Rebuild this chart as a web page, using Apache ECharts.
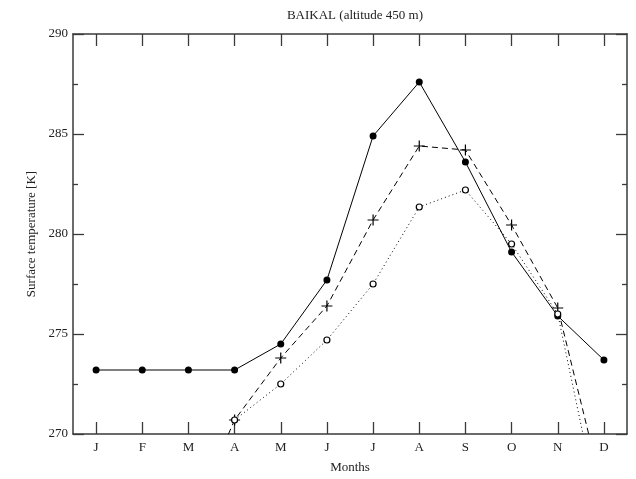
<!DOCTYPE html>
<html>
<head>
<meta charset="utf-8">
<script src="https://cdn.jsdelivr.net/npm/echarts@6/dist/echarts.min.js"></script>
<style>html,body{margin:0;padding:0;background:#fff}#c{width:636px;height:479px}</style>
</head>
<body>
<div id="c"></div>
<script>
var months = ['J','F','M','A','M','J','J','A','S','O','N','D'];
var yTicks = [270, 275, 280, 285, 290];
var solidSeries = [273.2, 273.2, 273.2, 273.2, 274.5, 277.7, 284.9, 287.6, 283.6, 279.1, 275.9, 273.7];
var dashedSeries = [null, null, 265.4, 270.7, 273.8, 276.4, 280.7, 284.4, 284.2, 280.45, 276.3, 266.9];
var dottedSeries = [null, null, null, 270.7, 272.5, 274.7, 277.5, 281.35, 282.2, 279.5, 276.0, 265.0];

var serif = '"Liberation Serif", "DejaVu Serif", serif';
var axisCol = '#3a3a3a';
var chart = echarts.init(document.getElementById('c'), null, {renderer: 'canvas'});
var plus = 'path://M0,5L10,5M5,0L5,10';

chart.setOption({
  animation: false,
  backgroundColor: '#fff',
  title: {
    text: 'BAIKAL (altitude 450 m)',
    left: 350, top: 4, textAlign: 'center',
    textStyle: {fontFamily: serif, fontSize: 13, fontWeight: 'normal', color: '#222'}
  },
  grid: {left: 73, right: 9, top: 34, bottom: 38},
  xAxis: [{
    type: 'category', data: months, boundaryGap: true, position: 'bottom',
    name: 'Months', nameLocation: 'middle', nameGap: 27,
    nameTextStyle: {fontFamily: serif, fontSize: 13, color: '#222'},
    axisLine: {show: true, lineStyle: {color: axisCol, width: 1.5}},
    axisTick: {show: true, inside: true, alignWithLabel: true, length: 12, lineStyle: {color: axisCol, width: 1.3}},
    axisLabel: {fontFamily: serif, fontSize: 13, color: '#222', margin: 7},
    splitLine: {show: false}
  }, {
    type: 'category', data: months, boundaryGap: true, position: 'top',
    axisLine: {show: true, lineStyle: {color: axisCol, width: 1.5}},
    axisTick: {show: true, inside: true, alignWithLabel: true, length: 12, lineStyle: {color: axisCol, width: 1.3}},
    axisLabel: {show: false},
    splitLine: {show: false}
  }],
  yAxis: [{
    type: 'value', min: yTicks[0], max: yTicks[yTicks.length - 1], interval: 5, position: 'left',
    name: 'Surface temperature [K]', nameLocation: 'middle', nameGap: 35,
    nameTextStyle: {fontFamily: serif, fontSize: 13, color: '#222'},
    axisLine: {show: true, lineStyle: {color: axisCol, width: 1.5}},
    axisTick: {show: true, inside: true, length: 11, lineStyle: {color: axisCol, width: 1.3}},
    minorTick: {show: true, splitNumber: 2, length: 5, lineStyle: {color: axisCol, width: 1.3}},
    axisLabel: {fontFamily: serif, fontSize: 13, color: '#222', margin: 5},
    splitLine: {show: false}
  }, {
    type: 'value', min: yTicks[0], max: yTicks[yTicks.length - 1], interval: 5, position: 'right',
    axisLine: {show: true, lineStyle: {color: axisCol, width: 1.5}},
    axisTick: {show: true, inside: true, length: 11, lineStyle: {color: axisCol, width: 1.3}},
    minorTick: {show: true, splitNumber: 2, length: 5, lineStyle: {color: axisCol, width: 1.3}},
    axisLabel: {show: false},
    splitLine: {show: false}
  }],
  series: [{
    type: 'line', name: 'solid', data: solidSeries, xAxisIndex: 0, yAxisIndex: 0,
    clip: true, connectNulls: false,
    symbol: 'circle', symbolSize: 7, showAllSymbol: true,
    itemStyle: {color: '#000'},
    lineStyle: {color: '#000', width: 1, type: 'solid'}
  }, {
    type: 'line', name: 'dashed', data: dashedSeries, xAxisIndex: 0, yAxisIndex: 0,
    clip: true,
    symbol: plus, symbolSize: 11, showAllSymbol: true,
    itemStyle: {color: 'none', borderColor: '#000', borderWidth: 1.2},
    lineStyle: {color: '#000', width: 1, type: [6, 4]}
  }, {
    type: 'line', name: 'dotted', data: dottedSeries, xAxisIndex: 0, yAxisIndex: 0,
    clip: true,
    symbol: 'circle', symbolSize: 6, showAllSymbol: true,
    itemStyle: {color: '#fff', borderColor: '#000', borderWidth: 1.2},
    lineStyle: {color: '#000', width: 1, type: [1, 3]}
  }]
});
</script>
</body>
</html>
